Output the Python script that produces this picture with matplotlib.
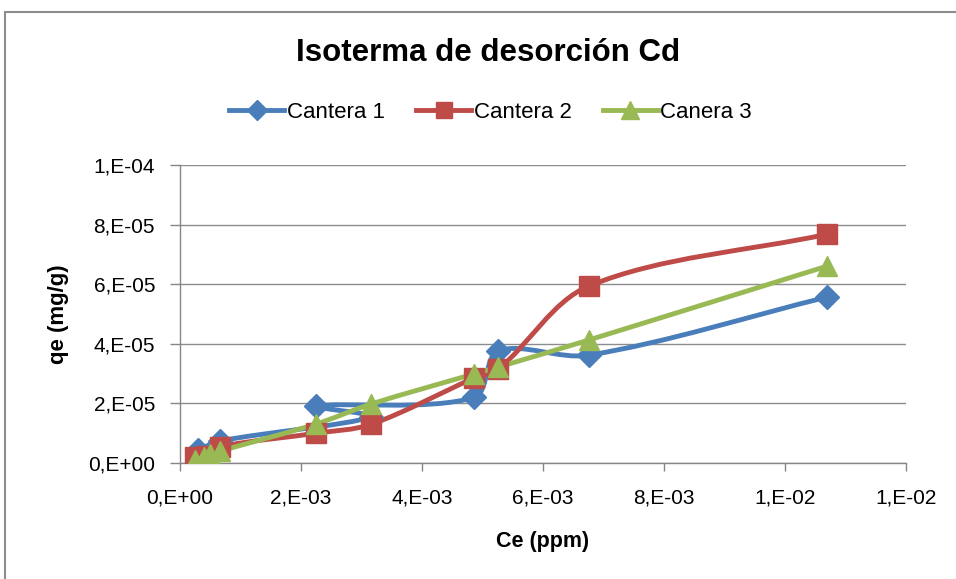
import matplotlib
matplotlib.use('Agg')
import matplotlib.pyplot as plt
import matplotlib.patches as mpatches
from matplotlib.path import Path
from matplotlib.ticker import FuncFormatter, MultipleLocator
import numpy as np

plt.rcParams['font.family'] = ['Liberation Sans', 'DejaVu Sans']

# Datos (en el orden de la serie, como en la hoja)
ce_1 = [0.00030, 0.00066, 0.00316, 0.00225, 0.00486, 0.00526, 0.00676, 0.01070]
qe_1 = [4.4e-6, 7.4e-6, 1.55e-5, 1.91e-5, 2.20e-5, 3.76e-5, 3.62e-5, 5.57e-5]

ce_2 = [0.00025, 0.00045, 0.00066, 0.00225, 0.00316, 0.00486, 0.00526, 0.00676, 0.01070]
qe_2 = [2.0e-6, 2.5e-6, 5.5e-6, 1.00e-5, 1.30e-5, 2.85e-5, 3.15e-5, 5.94e-5, 7.68e-5]

ce_3 = [0.00025, 0.00040, 0.00050, 0.00066, 0.00225, 0.00316, 0.00486, 0.00526, 0.00676, 0.01070]
qe_3 = [1.0e-6, 2.0e-6, 3.0e-6, 4.0e-6, 1.31e-5, 1.98e-5, 2.99e-5, 3.22e-5, 4.13e-5, 6.61e-5]

labels = ['Cantera 1', 'Cantera 2', 'Canera 3']
colors = ['#4A7EBB', '#BE4B48', '#98B954']
markers = ['D', 's', '^']
msizes = [12, 14, 15]

XMAX, YMAX = 0.012, 1e-4


def smooth_path(xs, ys):
    """Curva suave tipo Excel (Bezier, tangentes ponderadas por longitud)"""
    p = np.column_stack([xs, ys])
    scale = np.array([726 / XMAX, 298 / YMAX])  # aprox. pixeles
    q = p * scale
    n = len(q)
    d = np.linalg.norm(np.diff(q, axis=0), axis=1)
    verts = [p[0]]
    codes = [Path.MOVETO]
    for i in range(n - 1):
        if i > 0:
            t0 = (q[i + 1] - q[i - 1]) * d[i] / (d[i - 1] + d[i]) / 3
        else:
            t0 = (q[i + 1] - q[i]) / 3
        if i + 2 < n:
            t1 = (q[i + 2] - q[i]) * d[i] / (d[i] + d[i + 1]) / 3
        else:
            t1 = (q[i + 1] - q[i]) / 3
        c1 = (q[i] + t0) / scale
        c2 = (q[i + 1] - t1) / scale
        verts += [c1, c2, p[i + 1]]
        codes += [Path.CURVE4] * 3
    return Path(verts, codes)


fig = plt.figure(figsize=(9.56, 5.79), dpi=100)
ax = fig.add_axes([0.1883, 0.2003, 0.7594, 0.5147])

data = [(ce_1, qe_1), (ce_2, qe_2), (ce_3, qe_3)]
for (xs, ys), color, marker, ms in zip(data, colors, markers, msizes):
    ax.add_patch(mpatches.PathPatch(smooth_path(xs, ys), facecolor='none',
                                    edgecolor=color, linewidth=3.5, zorder=3))
    ax.plot(xs, ys, linestyle='none', marker=marker, markersize=ms,
            color=color, zorder=4)

ax.set_xlim(0, XMAX)
ax.set_ylim(0, YMAX)
ax.xaxis.set_major_locator(MultipleLocator(0.002))
ax.yaxis.set_major_locator(MultipleLocator(2e-5))


def excel_fmt(v, pos):
    s = f'{v:.0e}'
    mant, exp = s.split('e')
    return f'{mant},E{exp}'


ax.xaxis.set_major_formatter(FuncFormatter(excel_fmt))
ax.yaxis.set_major_formatter(FuncFormatter(excel_fmt))
ax.tick_params(axis='y', labelsize=15, length=7, width=1, color='#868686', pad=11)
ax.tick_params(axis='x', labelsize=15, length=6, width=1, color='#868686', pad=12)

ax.grid(axis='y', color='#8c8c8c', linewidth=1)
ax.set_axisbelow(True)
for side in ['top', 'right']:
    ax.spines[side].set_visible(False)
for side in ['left', 'bottom']:
    ax.spines[side].set_color('#868686')
    ax.spines[side].set_linewidth(1)

ax.set_xlabel('Ce (ppm)', fontsize=15.5, fontweight='bold', labelpad=17)
ax.set_ylabel('qe (mg/g)', fontsize=16, fontweight='bold', labelpad=14)
fig.text(0.511, 0.908, 'Isoterma de desorción Cd', fontsize=22.5,
         fontweight='bold', ha='center', va='center')

handles = [plt.Line2D([], [], color=c, marker=m, markersize=ms - 2, linewidth=3.5)
           for c, m, ms in zip(colors, markers, msizes)]
fig.legend(handles, labels, loc='center', ncol=3,
           bbox_to_anchor=(0.513, 0.806), frameon=False, fontsize=16,
           handlelength=2.5, handletextpad=0.1, columnspacing=1.4)

fig.patches.append(mpatches.Rectangle((5 / 956, -0.01), 1.0, 1 - 12 / 579 + 0.01,
                                      transform=fig.transFigure, fill=False,
                                      edgecolor='#8c8c8c', linewidth=1.5))

fig.savefig('out.png', dpi=100, facecolor='white')
